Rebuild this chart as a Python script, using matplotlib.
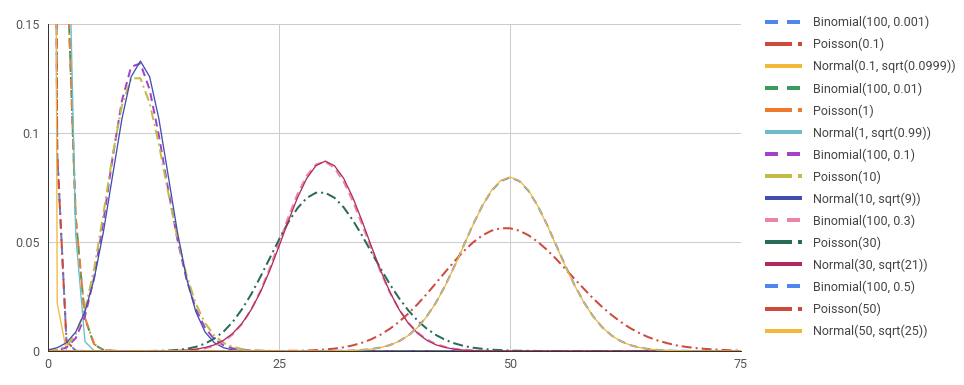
import matplotlib
matplotlib.use("Agg")
import matplotlib.pyplot as plt
from matplotlib.lines import Line2D

plt.rcParams['font.family'] = ['Roboto', 'DejaVu Sans']
plt.rcParams['lines.scale_dashes'] = False

x_values = list(range(0, 76))

binom_100_0001 = [
    0.9048, 0.0906, 0.0045, 0.0001, 0, 0, 0, 0, 0, 0,
    0, 0, 0, 0, 0, 0, 0, 0, 0, 0,
    0, 0, 0, 0, 0, 0, 0, 0, 0, 0,
    0, 0, 0, 0, 0, 0, 0, 0, 0, 0,
    0, 0, 0, 0, 0, 0, 0, 0, 0, 0,
    0, 0, 0, 0, 0, 0, 0, 0, 0, 0,
    0, 0, 0, 0, 0, 0, 0, 0, 0, 0,
    0, 0, 0, 0, 0, 0]
pois_01 = [
    0.9048, 0.0905, 0.0045, 0.0002, 0, 0, 0, 0, 0, 0,
    0, 0, 0, 0, 0, 0, 0, 0, 0, 0,
    0, 0, 0, 0, 0, 0, 0, 0, 0, 0,
    0, 0, 0, 0, 0, 0, 0, 0, 0, 0,
    0, 0, 0, 0, 0, 0, 0, 0, 0, 0,
    0, 0, 0, 0, 0, 0, 0, 0, 0, 0,
    0, 0, 0, 0, 0, 0, 0, 0, 0, 0,
    0, 0, 0, 0, 0, 0]
norm_01 = [
    1.2006, 0.0219, 0, 0, 0, 0, 0, 0, 0, 0,
    0, 0, 0, 0, 0, 0, 0, 0, 0, 0,
    0, 0, 0, 0, 0, 0, 0, 0, 0, 0,
    0, 0, 0, 0, 0, 0, 0, 0, 0, 0,
    0, 0, 0, 0, 0, 0, 0, 0, 0, 0,
    0, 0, 0, 0, 0, 0, 0, 0, 0, 0,
    0, 0, 0, 0, 0, 0, 0, 0, 0, 0,
    0, 0, 0, 0, 0, 0]
binom_100_001 = [
    0.3660, 0.3697, 0.1849, 0.0610, 0.0149, 0.0029, 0.0005, 0.0001, 0, 0,
    0, 0, 0, 0, 0, 0, 0, 0, 0, 0,
    0, 0, 0, 0, 0, 0, 0, 0, 0, 0,
    0, 0, 0, 0, 0, 0, 0, 0, 0, 0,
    0, 0, 0, 0, 0, 0, 0, 0, 0, 0,
    0, 0, 0, 0, 0, 0, 0, 0, 0, 0,
    0, 0, 0, 0, 0, 0, 0, 0, 0, 0,
    0, 0, 0, 0, 0, 0]
pois_1 = [
    0.3679, 0.3679, 0.1839, 0.0613, 0.0153, 0.0031, 0.0005, 0.0001, 0, 0,
    0, 0, 0, 0, 0, 0, 0, 0, 0, 0,
    0, 0, 0, 0, 0, 0, 0, 0, 0, 0,
    0, 0, 0, 0, 0, 0, 0, 0, 0, 0,
    0, 0, 0, 0, 0, 0, 0, 0, 0, 0,
    0, 0, 0, 0, 0, 0, 0, 0, 0, 0,
    0, 0, 0, 0, 0, 0, 0, 0, 0, 0,
    0, 0, 0, 0, 0, 0]
norm_1 = [
    0.2420, 0.4010, 0.2420, 0.0532, 0.0043, 0.0001, 0, 0, 0, 0,
    0, 0, 0, 0, 0, 0, 0, 0, 0, 0,
    0, 0, 0, 0, 0, 0, 0, 0, 0, 0,
    0, 0, 0, 0, 0, 0, 0, 0, 0, 0,
    0, 0, 0, 0, 0, 0, 0, 0, 0, 0,
    0, 0, 0, 0, 0, 0, 0, 0, 0, 0,
    0, 0, 0, 0, 0, 0, 0, 0, 0, 0,
    0, 0, 0, 0, 0, 0]
binom_100_01 = [
    0.0000, 0.0003, 0.0016, 0.0059, 0.0159, 0.0339, 0.0596, 0.0889, 0.1148, 0.1304,
    0.1319, 0.1199, 0.0988, 0.0743, 0.0513, 0.0327, 0.0193, 0.0106, 0.0054, 0.0026,
    0.0012, 0.0005, 0.0002, 0.0001, 0, 0, 0, 0, 0, 0,
    0, 0, 0, 0, 0, 0, 0, 0, 0, 0,
    0, 0, 0, 0, 0, 0, 0, 0, 0, 0,
    0, 0, 0, 0, 0, 0, 0, 0, 0, 0,
    0, 0, 0, 0, 0, 0, 0, 0, 0, 0,
    0, 0, 0, 0, 0, 0]
pois_10 = [
    0.0000, 0.0005, 0.0023, 0.0076, 0.0189, 0.0378, 0.0631, 0.0901, 0.1126, 0.1251,
    0.1251, 0.1137, 0.0948, 0.0729, 0.0521, 0.0347, 0.0217, 0.0128, 0.0071, 0.0037,
    0.0019, 0.0009, 0.0004, 0.0002, 0.0001, 0, 0, 0, 0, 0,
    0, 0, 0, 0, 0, 0, 0, 0, 0, 0,
    0, 0, 0, 0, 0, 0, 0, 0, 0, 0,
    0, 0, 0, 0, 0, 0, 0, 0, 0, 0,
    0, 0, 0, 0, 0, 0, 0, 0, 0, 0,
    0, 0, 0, 0, 0, 0]
norm_10 = [
    0.0005, 0.0015, 0.0038, 0.0087, 0.0180, 0.0332, 0.0547, 0.0807, 0.1065, 0.1258,
    0.1330, 0.1258, 0.1065, 0.0807, 0.0547, 0.0332, 0.0180, 0.0087, 0.0038, 0.0015,
    0.0005, 0.0002, 0, 0, 0, 0, 0, 0, 0, 0,
    0, 0, 0, 0, 0, 0, 0, 0, 0, 0,
    0, 0, 0, 0, 0, 0, 0, 0, 0, 0,
    0, 0, 0, 0, 0, 0, 0, 0, 0, 0,
    0, 0, 0, 0, 0, 0, 0, 0, 0, 0,
    0, 0, 0, 0, 0, 0]
binom_100_03 = [
    0, 0, 0, 0, 0, 0, 0, 0, 0, 0,
    0, 0, 0.0000, 0.0000, 0.0001, 0.0003, 0.0006, 0.0012, 0.0024, 0.0044,
    0.0076, 0.0124, 0.0190, 0.0277, 0.0380, 0.0496, 0.0613, 0.0720, 0.0804, 0.0856,
    0.0868, 0.0840, 0.0776, 0.0686, 0.0579, 0.0468, 0.0362, 0.0268, 0.0191, 0.0130,
    0.0085, 0.0053, 0.0032, 0.0019, 0.0010, 0.0006, 0.0003, 0.0001, 0.0001, 0,
    0, 0, 0, 0, 0, 0, 0, 0, 0, 0,
    0, 0, 0, 0, 0, 0, 0, 0, 0, 0,
    0, 0, 0, 0, 0, 0]
pois_30 = [
    0, 0, 0, 0, 0, 0, 0, 0, 0, 0,
    0, 0, 0.0001, 0.0002, 0.0005, 0.0010, 0.0019, 0.0034, 0.0057, 0.0089,
    0.0134, 0.0192, 0.0261, 0.0341, 0.0426, 0.0511, 0.0590, 0.0655, 0.0702, 0.0726,
    0.0726, 0.0703, 0.0659, 0.0599, 0.0529, 0.0453, 0.0378, 0.0306, 0.0242, 0.0186,
    0.0139, 0.0102, 0.0073, 0.0051, 0.0035, 0.0023, 0.0015, 0.0010, 0.0006, 0.0004,
    0.0002, 0.0001, 0.0001, 0, 0, 0, 0, 0, 0, 0,
    0, 0, 0, 0, 0, 0, 0, 0, 0, 0,
    0, 0, 0, 0, 0, 0]
norm_30 = [
    0, 0, 0, 0, 0, 0, 0, 0, 0, 0,
    0, 0, 0, 0.0001, 0.0002, 0.0004, 0.0008, 0.0016, 0.0028, 0.0049,
    0.0081, 0.0127, 0.0190, 0.0271, 0.0369, 0.0480, 0.0595, 0.0703, 0.0792, 0.0850,
    0.0871, 0.0850, 0.0792, 0.0703, 0.0595, 0.0480, 0.0369, 0.0271, 0.0190, 0.0127,
    0.0081, 0.0049, 0.0028, 0.0016, 0.0008, 0.0004, 0.0002, 0.0001, 0, 0,
    0, 0, 0, 0, 0, 0, 0, 0, 0, 0,
    0, 0, 0, 0, 0, 0, 0, 0, 0, 0,
    0, 0, 0, 0, 0, 0]
binom_100_05 = [
    0, 0, 0, 0, 0, 0, 0, 0, 0, 0,
    0, 0, 0, 0, 0, 0, 0, 0, 0, 0,
    0, 0, 0, 0, 0, 0, 0, 0, 0, 0,
    0.0000, 0.0001, 0.0001, 0.0002, 0.0005, 0.0009, 0.0016, 0.0027, 0.0045, 0.0071,
    0.0108, 0.0159, 0.0223, 0.0301, 0.0390, 0.0485, 0.0580, 0.0666, 0.0735, 0.0780,
    0.0796, 0.0780, 0.0735, 0.0666, 0.0580, 0.0485, 0.0390, 0.0301, 0.0223, 0.0159,
    0.0108, 0.0071, 0.0045, 0.0027, 0.0016, 0.0009, 0.0005, 0.0002, 0.0001, 0.0001,
    0, 0, 0, 0, 0, 0]
pois_50 = [
    0, 0, 0, 0, 0, 0, 0, 0, 0, 0,
    0, 0, 0, 0, 0, 0, 0, 0, 0, 0,
    0, 0, 0, 0.0000, 0.0000, 0.0000, 0.0001, 0.0001, 0.0002, 0.0004,
    0.0007, 0.0011, 0.0017, 0.0026, 0.0038, 0.0054, 0.0075, 0.0102, 0.0134, 0.0172,
    0.0215, 0.0262, 0.0312, 0.0363, 0.0412, 0.0458, 0.0498, 0.0530, 0.0552, 0.0563,
    0.0563, 0.0552, 0.0531, 0.0501, 0.0464, 0.0422, 0.0376, 0.0330, 0.0285, 0.0241,
    0.0201, 0.0165, 0.0133, 0.0105, 0.0082, 0.0063, 0.0048, 0.0036, 0.0026, 0.0019,
    0.0014, 0.0010, 0.0007, 0.0005, 0.0003, 0.0002]
norm_50 = [
    0, 0, 0, 0, 0, 0, 0, 0, 0, 0,
    0, 0, 0, 0, 0, 0, 0, 0, 0, 0,
    0, 0, 0, 0, 0, 0, 0, 0, 0, 0,
    0.0000, 0.0001, 0.0001, 0.0003, 0.0005, 0.0009, 0.0016, 0.0027, 0.0045, 0.0071,
    0.0108, 0.0158, 0.0222, 0.0300, 0.0388, 0.0484, 0.0579, 0.0666, 0.0737, 0.0782,
    0.0798, 0.0782, 0.0737, 0.0666, 0.0579, 0.0484, 0.0388, 0.0300, 0.0222, 0.0158,
    0.0108, 0.0071, 0.0045, 0.0027, 0.0016, 0.0009, 0.0005, 0.0003, 0.0001, 0.0001,
    0, 0, 0, 0, 0, 0]

series_labels = [
    "Binomial(100, 0.001)", "Poisson(0.1)", "Normal(0.1, sqrt(0.0999))",
    "Binomial(100, 0.01)", "Poisson(1)", "Normal(1, sqrt(0.99))",
    "Binomial(100, 0.1)", "Poisson(10)", "Normal(10, sqrt(9))",
    "Binomial(100, 0.3)", "Poisson(30)", "Normal(30, sqrt(21))",
    "Binomial(100, 0.5)", "Poisson(50)", "Normal(50, sqrt(25))",
]
series_values = [
    binom_100_0001, pois_01, norm_01,
    binom_100_001, pois_1, norm_1,
    binom_100_01, pois_10, norm_10,
    binom_100_03, pois_30, norm_30,
    binom_100_05, pois_50, norm_50,
]
colors = [
    "#4f86ec", "#cf4a3b", "#f1b83a",
    "#3d9a5d", "#ef7a2d", "#6cbdc8",
    "#a541c8", "#c1bc46", "#3d4fb0",
    "#ef82ab", "#296b59", "#b02a60",
    "#4f86ec", "#cf4a3b", "#f1b83a",
]

W, H = 964, 385
fig = plt.figure(figsize=(W / 100, H / 100), dpi=100)
ax = fig.add_axes([48 / W, 1 - 351 / H, (741 - 48) / W, (351 - 24) / H])

px = 0.72  # points per pixel
for i, (vals, col) in enumerate(zip(series_values, colors)):
    kind = i % 3
    if kind == 0:
        ax.plot(x_values, vals, color=col, lw=2 * px,
                linestyle=(0, (8 * px, 5 * px)), dash_capstyle='butt')
    elif kind == 1:
        ax.plot(x_values, vals, color=col, lw=2 * px,
                linestyle=(0, (10 * px, 4 * px, 2 * px, 4 * px)), dash_capstyle='butt')
    else:
        ax.plot(x_values, vals, color=col, lw=1.3 * px)

ax.set_xlim(0, 75)
ax.set_ylim(0, 0.15)
ax.set_xticks([0, 25, 50, 75])
ax.set_xticklabels(["0", "25", "50", "75"])
ax.set_yticks([0, 0.05, 0.1, 0.15])
ax.set_yticklabels(["0", "0.05", "0.1", "0.15"])
ax.tick_params(length=0, labelsize=9, colors="#555555", pad=6)
ax.tick_params(axis='x', pad=5)
ax.grid(True, color="#cccccc", lw=1 * px)
ax.set_axisbelow(True)
for s in ["top", "right"]:
    ax.spines[s].set_visible(False)
for s in ["left", "bottom"]:
    ax.spines[s].set_color("#333333")
    ax.spines[s].set_linewidth(1 * px)

handles = []
for i, col in enumerate(colors):
    kind = i % 3
    if kind == 0:
        ls = (0, (13 * px, 9 * px))
    elif kind == 1:
        ls = (0, (27 * px, 6 * px, 4 * px, 10 * px))
    else:
        ls = '-'
    handles.append(Line2D([0], [1], color=col, lw=4 * px, linestyle=ls,
                          solid_capstyle='butt', dash_capstyle='butt'))

leg = fig.legend(handles, series_labels, loc="upper left",
                 bbox_to_anchor=(765 / W, 1 - 16 / H), frameon=False,
                 fontsize=9, handlelength=37 * px / 9, handletextpad=0.9,
                 labelspacing=0.69, borderpad=0, borderaxespad=0)
for t in leg.get_texts():
    t.set_color("#444444")

fig.savefig("out.png", dpi=100)
